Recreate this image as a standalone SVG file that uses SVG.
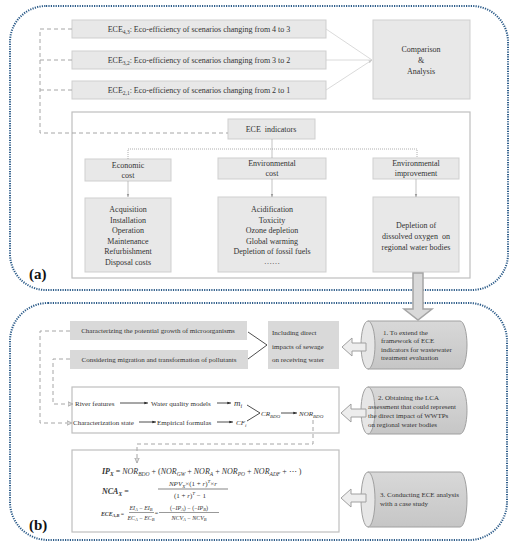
<svg xmlns="http://www.w3.org/2000/svg" width="515" height="550" viewBox="0 0 515 550">
<defs>
<style>
.t{font-family:"Liberation Serif","Times New Roman",serif;fill:#333;}
.c{text-anchor:middle}
.f8{font-size:8px}
.f7{font-size:7px}
.box{fill:#e8e8e8;stroke:#cfcfcf;stroke-width:1}
.dbox{fill:#d9d9d9;stroke:none}
.frame{fill:#fff;stroke:#bfbfbf;stroke-width:1.2}
.panel{fill:none;stroke:#2a5a88;stroke-width:2;stroke-dasharray:1.2 1.2}
.dash{fill:none;stroke:#a6a6a6;stroke-width:1;stroke-dasharray:4 3}
.thin{fill:none;stroke:#aaa;stroke-width:0.7}
.light{fill:none;stroke:#d0d0d0;stroke-width:0.8}
.dot{fill:none;stroke:#999;stroke-width:0.8;stroke-dasharray:1 1}
.blk{fill:none;stroke:#222;stroke-width:0.8}
.hol{fill:#ededed;stroke:#a0a0a0;stroke-width:1}
.cyl{fill:url(#cg);stroke:#a0a0a0;stroke-width:1}
.cface{fill:#e6e6e6;stroke:#a0a0a0;stroke-width:1}
.i{font-style:italic}
.bi{font-style:italic;font-weight:bold}
.lab{font-family:"Liberation Serif","Times New Roman",serif;font-weight:bold;font-size:15px;fill:#111}
</style>
<linearGradient id="cg" x1="0" y1="0" x2="0" y2="1">
<stop offset="0" stop-color="#d8d8d8"/>
<stop offset="1" stop-color="#c6c6c6"/>
</linearGradient>
<marker id="ag" viewBox="0 0 6 6" refX="5.5" refY="3" markerWidth="5" markerHeight="5" orient="auto"><path d="M0,0.8 L6,3 L0,5.2 Z" fill="#999"/></marker>
<marker id="al" viewBox="0 0 6 6" refX="5.5" refY="3" markerWidth="5" markerHeight="5" orient="auto"><path d="M0,0.8 L6,3 L0,5.2 Z" fill="#c8c8c8"/></marker>
<marker id="ab" viewBox="0 0 6 6" refX="5.5" refY="3" markerWidth="5" markerHeight="5" orient="auto"><path d="M0,1 L6,3 L0,5 Z" fill="#222"/></marker>
<marker id="ad" viewBox="0 0 6 6" refX="5.5" refY="3" markerWidth="6" markerHeight="6" orient="auto"><path d="M0.5,0.8 L5.5,3 L0.5,5.2 Z" fill="#ddd" stroke="#a6a6a6" stroke-width="0.8"/></marker>
</defs>

<rect x="10" y="6" width="498" height="284" rx="36" class="panel"/>
<rect x="10" y="303" width="497" height="237" rx="38" class="panel"/>
<text x="29" y="279" class="lab">(a)</text>
<text x="29" y="530" class="lab">(b)</text>

<g id="ece43"><rect x="72" y="20" width="254" height="18" class="box"/>
<text x="199" y="32" class="t c f8">ECE<tspan font-size="5.5" dy="2">4,3</tspan><tspan dy="-2">: Eco-efficiency of scenarios changing from 4 to 3</tspan></text></g>
<g id="ece32"><rect x="72" y="51" width="254" height="18" class="box"/>
<text x="199" y="63" class="t c f8">ECE<tspan font-size="5.5" dy="2">3,2</tspan><tspan dy="-2">: Eco-efficiency of scenarios changing from 3 to 2</tspan></text></g>
<g id="ece21"><rect x="72" y="81" width="254" height="18" class="box"/>
<text x="199" y="93" class="t c f8">ECE<tspan font-size="5.5" dy="2">2,1</tspan><tspan dy="-2">: Eco-efficiency of scenarios changing from 2 to 1</tspan></text></g>
<g id="comparison"><rect x="373" y="20" width="97" height="79" class="box"/>
<text x="421" y="52" class="t c f8">Comparison</text>
<text x="421" y="63" class="t c f8">&amp;</text>
<text x="421" y="74" class="t c f8">Analysis</text></g>

<g id="ece-frame"><rect x="72" y="112" width="398" height="166" class="frame"/></g>
<g id="ece-indicators"><rect x="228" y="119" width="87" height="20" class="box"/>
<text x="271" y="132" class="t c f8" xml:space="preserve">ECE  indicators</text></g>
<g id="economic"><rect x="85" y="159" width="86" height="22" class="box"/>
<text x="128" y="168" class="t c f8">Economic</text><text x="128" y="178" class="t c f8">cost</text></g>
<g id="envcost"><rect x="218" y="158" width="108" height="21" class="box"/>
<text x="272" y="166" class="t c f8">Environmental</text><text x="272" y="176" class="t c f8">cost</text></g>
<g id="envimp"><rect x="373" y="158" width="86" height="21" class="box"/>
<text x="416" y="166" class="t c f8">Environmental</text><text x="416" y="176" class="t c f8">improvement</text></g>
<g id="econ-list"><rect x="85" y="198" width="86" height="74" class="box"/>
<text class="t c f8"><tspan x="128" y="212">Acquisition</tspan><tspan x="128" y="222.5">Installation</tspan><tspan x="128" y="233">Operation</tspan><tspan x="128" y="243.5">Maintenance</tspan><tspan x="128" y="254">Refurbishment</tspan><tspan x="128" y="264.5">Disposal costs</tspan></text></g>
<g id="envcost-list"><rect x="218" y="197" width="108" height="75" class="box"/>
<text class="t c f8"><tspan x="272" y="212">Acidification</tspan><tspan x="272" y="222.5">Toxicity</tspan><tspan x="272" y="233">Ozone depletion</tspan><tspan x="272" y="243.5">Global warming</tspan><tspan x="272" y="254">Depletion of fossil fuels</tspan><tspan x="272" y="264">……</tspan></text></g>
<g id="envimp-list"><rect x="373" y="197" width="86" height="75" class="box"/>
<text class="t c f8"><tspan x="416" y="228">Depletion of</tspan><tspan x="416" y="239" xml:space="preserve">dissolved oxygen  on</tspan><tspan x="416" y="249.5">regional water bodies</tspan></text></g>

<g id="micro"><rect x="70" y="321" width="177" height="19" class="dbox"/>
<text x="158" y="333" class="t c f7">Characterizing the potential growth of microorganisms</text></g>
<g id="migration"><rect x="70" y="350" width="178" height="19" class="dbox"/>
<text x="159" y="362" class="t c f7">Considering migration and transformation of pollutants</text></g>
<g id="including"><rect x="268" y="321" width="71" height="48" class="dbox"/>
<text class="t f7"><tspan x="272" y="335">Including direct</tspan><tspan x="272" y="349">impacts of sewage</tspan><tspan x="272" y="362">on receiving water</tspan></text></g>

<g id="cyl1"><path d="M368,321 H460 A7,24 0 0 1 460,369 H368 Z" class="cyl"/><ellipse cx="368" cy="345" rx="7" ry="24" class="cface"/>
<text class="t f7"><tspan x="383" y="335">1. To extend the</tspan><tspan x="381" y="343">framework of ECE</tspan><tspan x="381" y="351.5">indicators for wastewater</tspan><tspan x="381" y="360">treatment evaluation</tspan></text></g>
<g id="cyl2"><path d="M368,387 H460 A7,23.5 0 0 1 460,434 H368 Z" class="cyl"/><ellipse cx="368" cy="410.5" rx="7" ry="23.5" class="cface"/>
<text class="t f7"><tspan x="378" y="400">2. Obtaining the LCA</tspan><tspan x="368" y="409">assessment that could represent</tspan><tspan x="368" y="418">the direct impact of WWTPs</tspan><tspan x="368" y="427">on regional water bodies</tspan></text></g>
<g id="cyl3"><path d="M368,472 H460 A7,27.5 0 0 1 460,527 H368 Z" class="cyl"/><ellipse cx="368" cy="499.5" rx="7" ry="27.5" class="cface"/>
<text class="t f7"><tspan x="380" y="497">3. Conducting ECE analysis</tspan><tspan x="380" y="506">with a case study</tspan></text></g>

<g id="river"><rect x="72" y="387" width="267" height="46" class="frame"/>
<text x="75" y="406" class="t f7">River features</text>
<text x="151" y="406" class="t f7">Water quality models</text>
<text x="234" y="406" class="t i" font-size="9">m<tspan font-size="6" dy="2">i</tspan></text>
<text x="73" y="425" class="t f7">Characterization state</text>
<text x="157" y="425" class="t f7">Empirical formulas</text>
<text x="236" y="425" class="t i f7">CF<tspan font-size="5" dy="1.5">i</tspan></text>
<text x="261" y="416" class="t i f7">CR<tspan font-size="5" dy="1.5">BDO</tspan></text>
<text x="299" y="416" class="t i f7">NOR<tspan font-size="5" dy="1.5">BDO</tspan></text></g>

<g id="formulas"><rect x="72" y="450" width="267" height="82" class="frame"/>
<text x="102" y="474" class="t f8"><tspan class="bi">IP</tspan><tspan class="bi" font-size="5.5" dy="1.5">X</tspan><tspan dy="-1.5"> = </tspan><tspan class="i">NOR</tspan><tspan class="i" font-size="5.5" dy="1.5">BDO</tspan><tspan dy="-1.5"> + (</tspan><tspan class="i">NOR</tspan><tspan class="i" font-size="5.5" dy="1.5">GW</tspan><tspan dy="-1.5"> + </tspan><tspan class="i">NOR</tspan><tspan class="i" font-size="5.5" dy="1.5">A</tspan><tspan dy="-1.5"> + </tspan><tspan class="i">NOR</tspan><tspan class="i" font-size="5.5" dy="1.5">PO</tspan><tspan dy="-1.5"> + </tspan><tspan class="i">NOR</tspan><tspan class="i" font-size="5.5" dy="1.5">ADF</tspan><tspan dy="-1.5"> + ⋯ )</tspan></text>
<text x="102" y="494" class="t f8"><tspan class="bi">NCA</tspan><tspan class="bi" font-size="5.5" dy="1.5">X</tspan><tspan dy="-1.5"> =</tspan></text>
<text x="193" y="486" class="t c f7"><tspan class="i">NPV</tspan><tspan class="i" font-size="5" dy="1.5">X</tspan><tspan dy="-1.5">×(1 + </tspan><tspan class="i">r</tspan><tspan>)</tspan><tspan class="i" font-size="5" dy="-3">T</tspan><tspan dy="3">×</tspan><tspan class="i">r</tspan></text>
<path d="M158,489 H228" stroke="#333" stroke-width="0.6"/>
<text x="190" y="498" class="t c f7"><tspan>(1 + </tspan><tspan class="i">r</tspan><tspan>)</tspan><tspan class="i" font-size="5" dy="-3">T</tspan><tspan dy="3"> − 1</tspan></text>
<text x="101" y="516" class="t" font-size="5.8"><tspan class="bi">ECE</tspan><tspan class="bi" font-size="4.3" dy="1.2">A,B</tspan><tspan dy="-1.2"> =</tspan></text>
<text x="141" y="510" class="t c" font-size="6"><tspan class="i">EI</tspan><tspan class="i" font-size="4.5" dy="1.2">A</tspan><tspan dy="-1.2"> − </tspan><tspan class="i">EI</tspan><tspan class="i" font-size="4.5" dy="1.2">B</tspan></text>
<path d="M129,512.5 H154" stroke="#333" stroke-width="0.5"/>
<text x="141" y="519.5" class="t c" font-size="6"><tspan class="i">EC</tspan><tspan class="i" font-size="4.5" dy="1.2">A</tspan><tspan dy="-1.2"> − </tspan><tspan class="i">EC</tspan><tspan class="i" font-size="4.5" dy="1.2">B</tspan></text>
<text x="156.5" y="514.5" class="t c" font-size="6">=</text>
<text x="189" y="510" class="t c" font-size="6"><tspan>(−</tspan><tspan class="i">IP</tspan><tspan class="i" font-size="4.5" dy="1.2">A</tspan><tspan dy="-1.2">) − (−</tspan><tspan class="i">IP</tspan><tspan class="i" font-size="4.5" dy="1.2">B</tspan><tspan dy="-1.2">)</tspan></text>
<path d="M159,512.5 H219" stroke="#333" stroke-width="0.5"/>
<text x="189" y="519.5" class="t c" font-size="6"><tspan class="i">NCV</tspan><tspan class="i" font-size="4.5" dy="1.2">A</tspan><tspan dy="-1.2"> − </tspan><tspan class="i">NCV</tspan><tspan class="i" font-size="4.5" dy="1.2">B</tspan></text>
</g>

<g id="connectors">
<path d="M72,29 H40 V133 H228 M40,60 H72 M40,90 H72" class="dash"/>
<path d="M326,29 L372,60 M326,60 L372,60 M326,90 L372,60" class="light" marker-end="url(#al)"/>
<path d="M272,139 V158" class="thin"/>
<path d="M128,159 V149 H417 V158" class="dot"/>
<path d="M128,181 V197" class="thin" marker-end="url(#ag)"/>
<path d="M272,179 V197" class="thin" marker-end="url(#ag)"/>
<path d="M416,179 V197" class="thin" marker-end="url(#ag)"/>
<polygon points="413,273 423,273 423,309 432,309 418,320 404,309 413,309" fill="#d9d9d9" stroke="#a5a5a5" stroke-width="1.5"/>
<path d="M70,331 H40 V423 H72" class="dash" marker-end="url(#ad)"/>
<path d="M70,359 H53 V404 H73" class="dash" marker-end="url(#ad)"/>
<path d="M248,332 L267,345 L248,359" class="blk"/>
<polygon points="342,347 352,338 352,343 366,343 366,351 352,351 352,356" class="hol"/>
<polygon points="341,413 351,404 351,409 366,409 366,417 351,417 351,422" class="hol"/>
<polygon points="341,498 351,489 351,494 366,494 366,502 351,502 351,507" class="hol"/>
<path d="M120,403 H148" class="blk" marker-end="url(#ab)"/>
<path d="M217,403 H231" class="blk" marker-end="url(#ab)"/>
<path d="M139,422 H156" class="blk" marker-end="url(#ab)"/>
<path d="M217,422 H233" class="blk" marker-end="url(#ab)"/>
<path d="M247,405 L260,413 L247,421" class="blk"/>
<path d="M281,413 H297" class="blk" marker-end="url(#ab)"/>
<path d="M313,420 V444 H137 V463" class="dash" marker-end="url(#ad)"/>
</g>
</svg>
